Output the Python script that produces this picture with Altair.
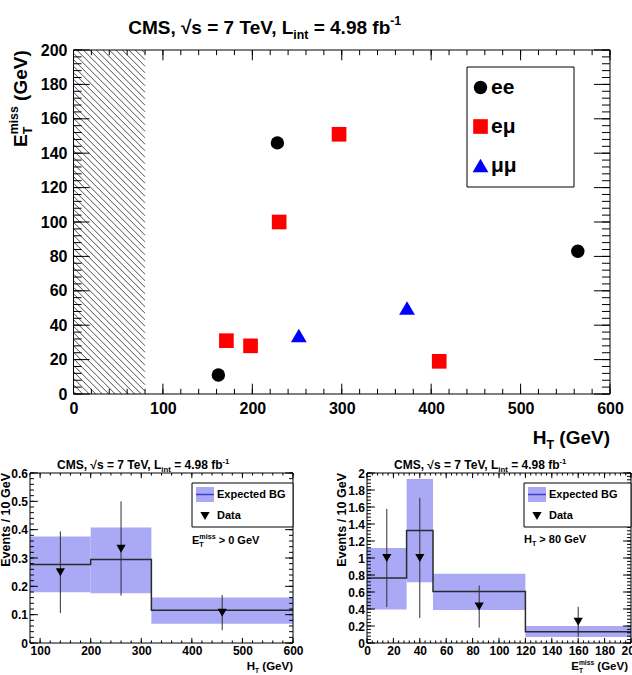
import altair as alt
import numpy as np
import pandas as pd

FONT = "Liberation Sans"
BLK = "#000000"
BAND = "#a9a9f6"
BANDLINE = "#3d3dc8"
HISTLINE = "#2b2b2b"
CW, CH = 632, 675

# ---------------- top panel: events in (H_T, E_T^miss) ----------------
ee_ht = [162, 228, 564]
ee_met = [11, 146, 83]
em_ht = [171, 198, 230, 297, 409]
em_met = [31, 28, 100, 151, 19]
mm_ht = [252, 373]
mm_met = [34, 50]
channels = ["ee", "eμ", "μμ"]
channel_colors = ["#000000", "#ff0000", "#0000ff"]
channel_shapes = ["circle", "square", "triangle-up"]
hatch_ht_max = 80
top_x_domain = [0, 600]
top_y_domain = [0, 200]
top_x_labels = [0, 100, 200, 300, 400, 500, 600]
top_y_labels = [0, 20, 40, 60, 80, 100, 120, 140, 160, 180, 200]

# ---------------- bottom-left: H_T distribution ----------------
bl_edges = [80, 200, 320, 600]
bl_bg = [0.277, 0.295, 0.116]
bl_bg_lo = [0.179, 0.176, 0.068]
bl_bg_hi = [0.376, 0.408, 0.161]
bl_data_x = [140, 260, 460]
bl_data_y = [0.25, 0.333, 0.107]
bl_data_lo = [0.106, 0.167, 0.045]
bl_data_hi = [0.394, 0.5, 0.169]
bl_x_domain = [80, 600]
bl_y_domain = [0, 0.6]
bl_x_labels = [100, 200, 300, 400, 500, 600]
bl_y_labels = [0, 0.1, 0.2, 0.3, 0.4, 0.5, 0.6]

# ---------------- bottom-right: E_T^miss distribution ----------------
br_edges = [0, 30, 50, 120, 200]
br_bg = [0.766, 1.324, 0.605, 0.133]
br_bg_lo = [0.395, 0.715, 0.387, 0.07]
br_bg_hi = [1.117, 1.93, 0.816, 0.2]
br_data_x = [15, 40, 85, 160]
br_data_y = [1.0, 1.0, 0.429, 0.25]
br_data_lo = [0.423, 0.293, 0.181, 0.073]
br_data_hi = [1.577, 1.707, 0.676, 0.427]
br_x_domain = [0, 200]
br_y_domain = [0, 2]
br_x_labels = [0, 20, 40, 60, 80, 100, 120, 140, 160, 180, 200]
br_y_labels = [0, 0.2, 0.4, 0.6, 0.8, 1.0, 1.2, 1.4, 1.6, 1.8, 2.0]

# ---------------- frames (pixel ranges of each panel) ----------------
TOP_X, TOP_Y = [73.5, 610], [394, 50]
BL_X, BL_Y = [30, 293], [643, 473]
BR_X, BR_Y = [367, 631], [643, 473]

ONE = pd.DataFrame({"k": [0]})

# Arial/Liberation Sans Bold advance widths (per 1000 em)
AW = {" ": 278, "(": 333, ")": 333, ",": 278, "-": 333, ".": 278, "/": 278,
      "=": 584, ">": 584, "√": 549, "B": 722, "C": 722, "E": 667, "G": 778,
      "H": 722, "L": 611, "M": 833, "S": 667, "T": 611, "V": 667, "a": 556,
      "b": 611, "c": 556, "d": 611, "e": 556, "f": 333, "i": 278, "m": 889,
      "n": 611, "p": 611, "s": 556, "t": 333, "v": 556, "x": 556}


def tw(s, size):
    return sum(AW.get(c, 556) for c in s) / 1000.0 * size


def txt(s, x, y, size, angle=0, align="left", baseline="alphabetic", color=BLK):
    props = dict(text=s, font=FONT, fontSize=size, fontWeight="bold",
                 align=align, baseline=baseline, color=color)
    if angle:
        props["angle"] = angle
    return alt.Chart(ONE).mark_text(**props).encode(x=alt.value(x), y=alt.value(y))


def _place(s, along, perp, fs, x, y, angle, anchor_end=False):
    lead = len(s) - len(s.lstrip(" "))
    along += tw(" " * lead, fs)
    s = s.lstrip(" ")
    align = "left"
    if anchor_end:
        along += tw(s, fs)
        align = "right"
    if angle == 270:
        return txt(s, x + perp, y - along, fs, angle=270, align=align)
    return txt(s, x + along, y + perp, fs, align=align)


def rich(segs, x, y, size, angle=0, script=0.65, align="left", sub_dy=0.28, sup_dy=0.45):
    """Text with sub/superscripts; plain parts that precede a script are anchored at their end."""
    ss = size * script

    def seg_w(seg):
        if isinstance(seg, str):
            return tw(seg, size)
        sub, sup = seg
        return max(tw(sub or "", ss), tw(sup or "", ss))

    total = sum(seg_w(s) for s in segs)
    pos = 0.0 if align == "left" else -total
    out = []
    for i, seg in enumerate(segs):
        if isinstance(seg, str):
            before_script = (i + 1 < len(segs)) and not isinstance(segs[i + 1], str) and \
                (i == 0 or isinstance(segs[i - 1], str))
            out.append(_place(seg, pos, 0, size, x, y, angle, anchor_end=before_script))
        else:
            sub, sup = seg
            if sub:
                out.append(_place(sub, pos, sub_dy * size, ss, x, y, angle))
            if sup:
                out.append(_place(sup, pos, -sup_dy * size, ss, x, y, angle))
        pos += seg_w(seg)
    return out


def vrect(x, x2, y, y2, fill=None, stroke=None):
    props = {}
    if fill:
        props["fill"] = fill
    else:
        props["fillOpacity"] = 0
    if stroke:
        props.update(stroke=stroke, strokeWidth=1)
    return alt.Chart(ONE).mark_rect(**props).encode(
        x=alt.value(x), x2=alt.value(x2), y=alt.value(y), y2=alt.value(y2))


def make_axes(xr, yr, xvals, yvals, size, xpad, ypad, yfmt=None):
    common = dict(ticks=False, domain=False, grid=False, labelFont=FONT,
                  labelFontSize=size, labelFontWeight="bold", labelColor=BLK,
                  labelFlush=False, labelOverlap=False, title=None)
    xa = alt.Axis(values=xvals, orient="bottom", offset=yr[0] - CH, labelPadding=xpad, **common)
    ykw = dict(common)
    if yfmt:
        ykw["format"] = yfmt
    ya = alt.Axis(values=yvals, orient="left", offset=-xr[0], labelPadding=ypad, **ykw)
    return xa, ya


def tick_layers(X, Y, xr, yr, xmaj, xmin, ymaj, ymin, Lx, Ly):
    """Inward-pointing ticks on all four frame sides, positioned by the scales."""
    layers = []
    x0, x1 = xr
    yb, yt = yr
    for vals, L in ((xmin, Lx / 2), (xmaj, Lx)):
        base = alt.Chart(pd.DataFrame({"v": vals})).mark_rule(color=BLK, strokeWidth=1)
        layers.append(base.encode(x=X("v"), y=alt.value(yb), y2=alt.value(yb - L)))
        layers.append(base.encode(x=X("v"), y=alt.value(yt), y2=alt.value(yt + L)))
    for vals, L in ((ymin, Ly / 2), (ymaj, Ly)):
        base = alt.Chart(pd.DataFrame({"v": vals})).mark_rule(color=BLK, strokeWidth=1)
        layers.append(base.encode(y=Y("v"), x=alt.value(x0), x2=alt.value(x0 + L)))
        layers.append(base.encode(y=Y("v"), x=alt.value(x1), x2=alt.value(x1 - L)))
    return layers


# ======================= top panel =======================
txs = alt.Scale(domain=top_x_domain, range=TOP_X, nice=False, zero=False)
tys = alt.Scale(domain=top_y_domain, range=TOP_Y, nice=False, zero=False)
TXA, TYA = make_axes(TOP_X, TOP_Y, top_x_labels, top_y_labels, 16, 6, 6.5)


def TX(f):
    return alt.X(f"{f}:Q", scale=txs, axis=TXA)


def TY(f):
    return alt.Y(f"{f}:Q", scale=tys, axis=TYA)


pts = pd.DataFrame({
    "ht": ee_ht + em_ht + mm_ht,
    "met": ee_met + em_met + mm_met,
    "ch": [channels[0]] * len(ee_ht) + [channels[1]] * len(em_ht) + [channels[2]] * len(mm_ht),
})

# hatched excluded region H_T < 80 GeV (decorative hatch lines)
TW = TOP_X[1] - TOP_X[0]
TH = TOP_Y[0] - TOP_Y[1]
R = hatch_ht_max / (top_x_domain[1] - top_x_domain[0]) * TW
rows = []
step = 6.5
c = -R + step / 2
while c < TH:
    a0, a1 = max(0.0, -c), min(R, TH - c)
    if a1 > a0:
        rows.append(dict(x=a0 * 600 / TW, x2=a1 * 600 / TW,
                         y=(TH - (a0 + c)) * 200 / TH, y2=(TH - (a1 + c)) * 200 / TH))
    c += step
hatch = alt.Chart(pd.DataFrame(rows)).mark_rule(color="#3a3a3a", strokeWidth=0.9).encode(
    x=TX("x"), x2="x2:Q", y=TY("y"), y2="y2:Q")

leg = alt.Legend(orient="none", legendX=470, legendY=77, title=None, labelFont=FONT,
                 labelFontSize=21, labelFontWeight="bold", labelColor=BLK, labelOffset=0,
                 rowPadding=17, padding=0, symbolStrokeWidth=0)

points = alt.Chart(pts).mark_point(filled=True, opacity=1).encode(
    x=TX("ht"), y=TY("met"),
    color=alt.Color("ch:N", scale=alt.Scale(domain=channels, range=channel_colors), legend=leg),
    shape=alt.Shape("ch:N", scale=alt.Scale(domain=channels, range=channel_shapes), legend=leg),
    size=alt.Size("ch:N", scale=alt.Scale(domain=channels, range=[180, 250, 260]), legend=leg),
)

top_layers = [hatch]
top_layers += tick_layers(TX, TY, TOP_X, TOP_Y,
                          top_x_labels, list(np.arange(0, 601, 20)),
                          top_y_labels, list(np.arange(0, 201, 4)),
                          0.03 * TH, 0.03 * TW)
top_layers.append(vrect(TOP_X[0], TOP_X[1], TOP_Y[1], TOP_Y[0], stroke=BLK))
top_layers.append(vrect(467, 574, 67, 187, "white", BLK))
top_layers.append(points)
top_layers += rich(["CMS, √s = 7 TeV, L", ("int", None), " = 4.98 fb", (None, "-1")],
                   125, 34, 19)
top_layers += rich(["E", ("T", "miss"), " (GeV)"], 27, 147, 19, angle=270)
top_layers += rich(["H", ("T", None), " (GeV)"], TOP_X[1], 444, 19, align="right")

top = alt.layer(*top_layers)


# ======================= bottom panels =======================
def hist_panel(edges, bg, bg_lo, bg_hi, dx, dy, dlo, dhi, xdom, ydom, xr, yr, xlab, ylab,
               xminor, yminor, xtitle, xtitle_y, xtitle_right, cut_text, leg_x0, ytitle_x):
    xs = alt.Scale(domain=xdom, range=xr, nice=False, zero=False)
    ys = alt.Scale(domain=ydom, range=yr, nice=False, zero=False)
    XA, YA = make_axes(xr, yr, xlab, ylab, 12, 2, 2.5, ".1~f")

    def X(f):
        return alt.X(f"{f}:Q", scale=xs, axis=XA)

    def Y(f):
        return alt.Y(f"{f}:Q", scale=ys, axis=YA)

    band_df = pd.DataFrame({"lo": edges[:-1], "hi": edges[1:], "blo": bg_lo, "bhi": bg_hi})
    step_df = pd.DataFrame({"x": edges, "y": bg + [bg[-1]]})
    dat_df = pd.DataFrame({"x": dx, "y": dy, "lo": dlo, "hi": dhi})

    band = alt.Chart(band_df).mark_rect(fill=BAND).encode(x=X("lo"), x2="hi:Q", y=Y("blo"), y2="bhi:Q")
    line = alt.Chart(step_df).mark_line(interpolate="step-after", color=HISTLINE, strokeWidth=1.5).encode(
        x=X("x"), y=Y("y"))
    err = alt.Chart(dat_df).mark_rule(color="#303030", strokeWidth=1).encode(x=X("x"), y=Y("lo"), y2="hi:Q")
    mk = alt.Chart(dat_df).mark_point(shape="triangle-down", filled=True, size=85, color=BLK, opacity=1).encode(
        x=X("x"), y=Y("y"))

    W = xr[1] - xr[0]
    H = yr[0] - yr[1]
    layers = [band, line, err, mk]
    layers += tick_layers(X, Y, xr, yr, xlab, xminor, ylab, yminor, 0.03 * H, 0.03 * W)
    layers.append(vrect(xr[0], xr[1], yr[1], yr[0], stroke=BLK))
    # legend box
    b = leg_x0
    t = yr[1]
    layers.append(vrect(b, xr[1], t + 10, t + 54, "white", BLK))
    layers.append(vrect(b + 4, b + 22, t + 14, t + 29, BAND))
    layers.append(alt.Chart(ONE).mark_rule(color=BANDLINE, strokeWidth=1.5).encode(
        x=alt.value(b + 4), x2=alt.value(b + 22), y=alt.value(t + 21.5)))
    layers.append(alt.Chart(ONE).mark_point(shape="triangle-down", filled=True, size=85, color=BLK,
                                             opacity=1).encode(x=alt.value(b + 13), y=alt.value(t + 43)))
    layers.append(txt("Expected BG", b + 25, t + 21.5, 11, baseline="middle"))
    layers.append(txt("Data", b + 25, t + 43, 11, baseline="middle"))
    layers += cut_text
    layers += rich(["CMS, √s = 7 TeV, L", ("int", None), " = 4.98 fb", (None, "-1")], xr[0] + 25, t - 4, 12)
    layers.append(txt("Events / 10 GeV", ytitle_x, t, 12.5, angle=270, align="right"))
    layers += rich(xtitle, xtitle_right, xtitle_y, 11.5, align="right", script=0.58,
                   sub_dy=0.28, sup_dy=0.42)
    return alt.layer(*layers)


bl = hist_panel(bl_edges, bl_bg, bl_bg_lo, bl_bg_hi, bl_data_x, bl_data_y, bl_data_lo, bl_data_hi,
                bl_x_domain, bl_y_domain, BL_X, BL_Y, bl_x_labels, bl_y_labels,
                list(np.arange(80, 601, 20)), list(np.round(np.arange(0, 0.601, 0.02), 3)),
                ["H", ("T", None), " (GeV)"], 670, BL_X[1],
                rich(["E", ("T", "miss"), " > 0 GeV"], 192, 544, 11),
                192, 9.5)

br = hist_panel(br_edges, br_bg, br_bg_lo, br_bg_hi, br_data_x, br_data_y, br_data_lo, br_data_hi,
                br_x_domain, br_y_domain, BR_X, BR_Y, br_x_labels, br_y_labels,
                list(np.arange(0, 201, 4)), list(np.round(np.arange(0, 2.001, 0.04), 3)),
                ["E", ("T", "miss"), " (GeV)"], 670, BR_X[1] - 3,
                rich(["H", ("T", None), " > 80 GeV"], 524, 543, 11),
                524, 345.5)

chart = alt.layer(top, bl, br).resolve_scale(
    x="independent", y="independent"
).properties(
    width=CW, height=CH, padding=0, autosize="none", background="white"
).configure_view(stroke=None)

chart.save("out.html", embed_options={"renderer": "svg", "actions": False})
